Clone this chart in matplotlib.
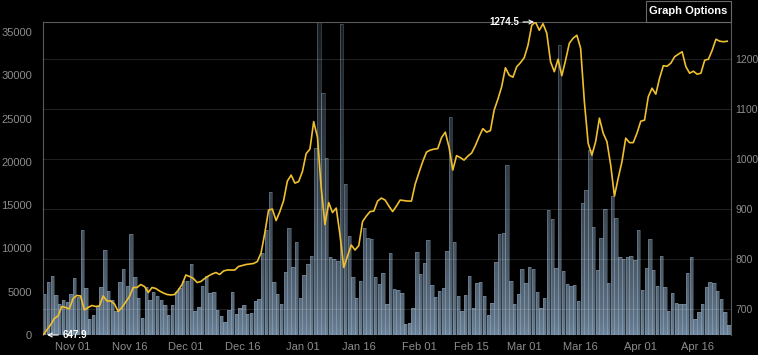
import numpy as np
import pandas as pd
import matplotlib
matplotlib.use('Agg')
import matplotlib.pyplot as plt
from matplotlib.patches import Rectangle

start_date = '2016-10-24'

volume = [
    4700, 6120, 6780, 4600, 3550, 4080, 3800, 4700, 6600, 4400,
    12100, 5400, 1900, 2300, 3300, 5600, 9800, 5080, 4000, 2800,
    6100, 7600, 5700, 11650, 6700, 4300, 2000, 5500, 4000, 5000,
    4500, 4040, 3430, 2350, 3470, 5000, 5400, 6250, 6250, 8160,
    2810, 3230, 5700, 6780, 4850, 4970, 2890, 2230, 1500, 2890,
    4930, 2430, 3120, 3500, 2430, 2540, 3970, 4120, 9430, 12130,
    16560, 6080, 4740, 3540, 7280, 12320, 7890, 10780, 4240, 6930,
    8200, 9090, 21560, 36150, 27900, 20400, 8970, 8740, 8550, 35900,
    17440, 11430, 6660, 4240, 6240, 12320, 11170, 11130, 6700, 5890,
    7200, 3540, 9430, 5270, 5200, 4810, 1270, 1390, 3160, 9550,
    7050, 8320, 10970, 5780, 4350, 5120, 5430, 9700, 25140, 10740,
    4500, 2770, 4620, 6810, 3080, 6040, 6120, 4500, 2310, 3660,
    8390, 11670, 11740, 19630, 6280, 3580, 4700, 7590, 6040, 7820,
    7620, 4970, 3080, 4240, 14480, 13400, 7700, 33500, 7350, 5850,
    5700, 5740, 3930, 15280, 16750, 21370, 12470, 7510, 11170, 14560,
    5970, 16090, 13480, 9050, 8740, 8970, 9120, 8660, 12130, 5200,
    7700, 11090, 7510, 5660, 9160, 5510, 2770, 4810, 3660, 3580,
    3580, 7120, 8970, 1810, 2700, 3620, 5510, 6080, 5970, 5080,
    4200, 2620, 1150,
]

price = [
    647.9, 658, 668, 681, 686, 705, 703, 700, 721, 727,
    726, 698, 703, 707, 705, 706, 726, 716, 716, 710,
    695, 703, 714, 725, 743, 743, 749, 745, 733, 743,
    741, 736, 732, 729, 728, 729, 738, 749, 768, 765,
    761, 753, 755, 761, 766, 770, 773, 769, 776, 778,
    778, 778, 785, 787, 789, 790, 791, 795, 812, 852,
    898, 900, 877, 895, 917, 956, 968, 952, 955, 975,
    1011, 1020, 1075, 1044, 942, 869, 913, 893, 902, 848,
    783, 806, 828, 818, 827, 875, 886, 895, 896, 916,
    922, 918, 906, 895, 906, 918, 917, 916, 916, 950,
    973, 995, 1014, 1018, 1020, 1021, 1043, 1054, 1024, 978,
    1007, 1003, 998, 1006, 1012, 1027, 1045, 1061, 1054, 1057,
    1098, 1120, 1145, 1183, 1168, 1164, 1185, 1193, 1203, 1228,
    1268, 1274.5, 1258, 1271, 1252, 1195, 1175, 1200, 1167, 1198,
    1232, 1242, 1248, 1222, 1115, 1032, 1008, 1035, 1082, 1052,
    1035, 988, 926, 962, 995, 1042, 1033, 1033, 1052, 1076,
    1078, 1125, 1142, 1130, 1162, 1187, 1186, 1192, 1205, 1210,
    1215, 1185, 1172, 1176, 1170, 1172, 1198, 1200, 1218, 1240,
    1236, 1235, 1236,
]

tick_dates = ['2016-11-01', '2016-11-16', '2016-12-01', '2016-12-16',
              '2017-01-01', '2017-01-16', '2017-02-01', '2017-02-15',
              '2017-03-01', '2017-03-16', '2017-04-01', '2017-04-16']
tick_labels = ['Nov 01', 'Nov 16', 'Dec 01', 'Dec 16', 'Jan 01', 'Jan 16',
               'Feb 01', 'Feb 15', 'Mar 01', 'Mar 16', 'Apr 01', 'Apr 16']
volume_ticks = [0, 5000, 10000, 15000, 20000, 25000, 30000, 35000]
price_ticks = [700, 800, 900, 1000, 1100, 1200]

plt.rcParams['font.family'] = ['Liberation Sans', 'DejaVu Sans']

dates = pd.date_range(start_date, periods=len(volume), freq='D')
label_color = '#8c8c8c'

fig = plt.figure(figsize=(7.58, 3.55), dpi=100, facecolor='black')
ax = fig.add_axes([43 / 758, 20 / 355, 688 / 758, 313 / 355])
ax.set_facecolor('black')

# volume bars, then a dark gradient over them, then light outlines
ax.bar(dates, volume, width=0.9, align='edge', color='#6f869c', linewidth=0, zorder=2)
frac = np.linspace(0, 1, 256)
shade = np.zeros((256, 1, 4))
shade[:, 0, 3] = 0.8 * frac ** 0.6
ax.set_autoscale_on(False)
ax.imshow(shade, extent=[0, 1, 0, 1], transform=ax.transAxes, origin='lower',
          aspect='auto', zorder=2.2)
ax.bar(dates, volume, width=0.9, align='edge', fill=False, edgecolor='#9ab0c4',
       linewidth=0.5, alpha=0.45, zorder=2.3)

x_end = dates[-1] + pd.Timedelta(days=1)
ax.set_xlim(dates[0], x_end)
ax.set_ylim(0, max(volume))
ax.set_yticks(volume_ticks)
ax.set_xticks(pd.to_datetime(tick_dates))
ax.set_xticklabels(tick_labels)
ax.tick_params(axis='y', length=0, pad=8, labelsize=8, colors=label_color)
ax.tick_params(axis='x', length=0, pad=5, labelsize=8, colors=label_color)
for side in ['left', 'right', 'top']:
    ax.spines[side].set_color('#5a5a5a')
    ax.spines[side].set_linewidth(0.8)
ax.spines['bottom'].set_visible(False)

# price line on the right axis
ax2 = ax.twinx()
ax2.plot(dates, price, color='#efbf2f', linewidth=1.2, zorder=3)
ax2.set_xlim(dates[0], x_end)
ax2.set_ylim(min(price), max(price))
ax2.set_yticks(price_ticks)
ax2.tick_params(axis='y', length=0, pad=3, labelsize=7.5, colors=label_color)
ax2.grid(True, color='white', alpha=0.13, linewidth=0.8)
for side in ['left', 'right', 'top', 'bottom']:
    ax2.spines[side].set_visible(False)

imax = int(np.argmax(price))
imin = int(np.argmin(price))
ax2.annotate(f'{price[imax]:.1f}', xy=(dates[imax], price[imax]), xytext=(-12, 0),
             textcoords='offset points', ha='right', va='center', color='white',
             fontsize=7, fontweight='bold', annotation_clip=False,
             arrowprops=dict(arrowstyle='->', color='white', lw=0.8, shrinkA=1, shrinkB=1))
ax2.annotate(f'{price[imin]:.1f}', xy=(dates[imin], price[imin]), xytext=(14, 0),
             textcoords='offset points', ha='left', va='center', color='white',
             fontsize=7, fontweight='bold', annotation_clip=False,
             arrowprops=dict(arrowstyle='->', color='white', lw=0.8, shrinkA=1, shrinkB=3))

# "Graph Options" button in the top right corner
fig.patches.append(Rectangle((645.5 / 758, 333 / 355), 85.5 / 758, 21 / 355,
                             transform=fig.transFigure, facecolor='black',
                             edgecolor='#6a6a6a', linewidth=0.8))
fig.text(688 / 758, 343.5 / 355, 'Graph Options', color='white', fontsize=8,
         fontweight='bold', ha='center', va='center')

fig.savefig('out.png', dpi=100, facecolor='black')
